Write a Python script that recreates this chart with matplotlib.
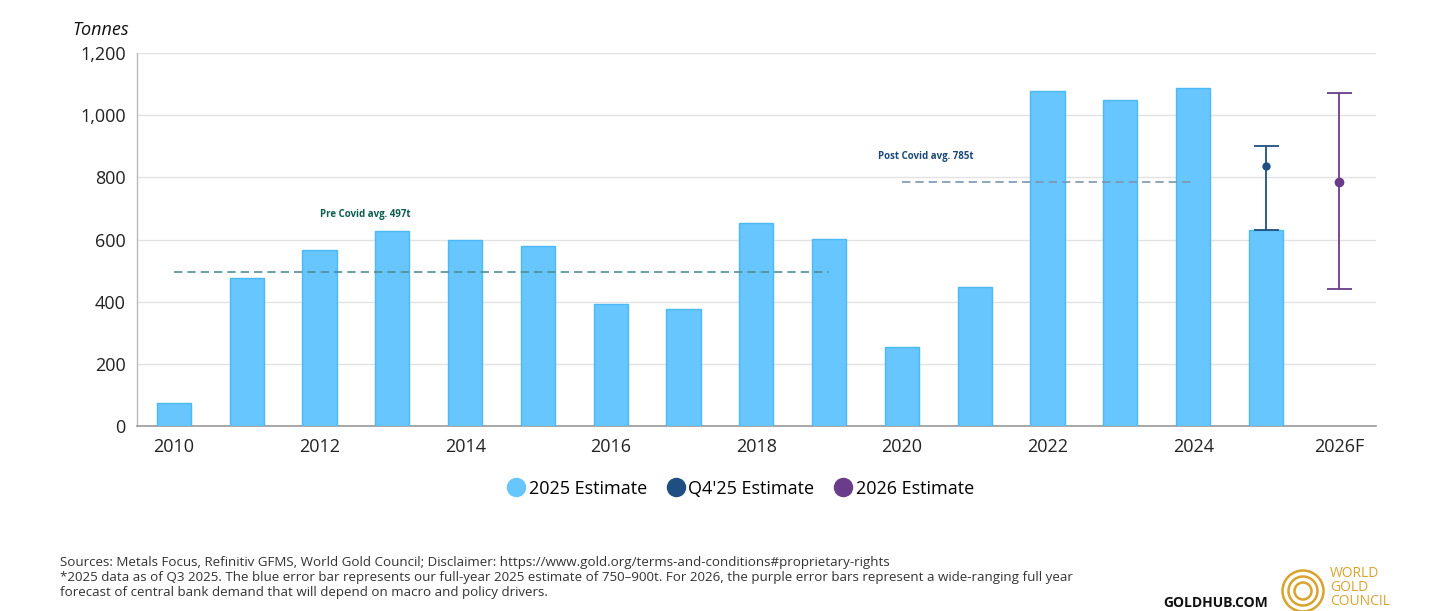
import numpy as np
import matplotlib.pyplot as plt
from matplotlib.patches import Circle
from matplotlib.lines import Line2D

plt.rcParams['font.family'] = ['Open Sans', 'DejaVu Sans']

# Data
years = ['2010', '2011', '2012', '2013', '2014', '2015', '2016', '2017', '2018',
         '2019', '2020', '2021', '2022', '2023', '2024', '2025', '2026F']
demand = [74, 477, 566, 627, 598, 579, 392, 376, 653, 602, 254, 447, 1078, 1049, 1087, 632]
tick_labels = ['2010', '', '2012', '', '2014', '', '2016', '', '2018', '',
               '2020', '', '2022', '', '2024', '', '2026F']

q4_est = 835
q4_low, q4_high = 632, 900
f26_est = 785
f26_low, f26_high = 440, 1070

pre_covid_avg = 497
post_covid_avg = 785

bar_color = '#66c6fd'
navy = '#1f4f82'
purple = '#6a3d8a'

fig = plt.figure(figsize=(14.56, 6.11), dpi=100)
ax = fig.add_axes([0.094, 0.302, 0.851, 0.612])

x = np.arange(len(years))
ax.bar(x[:len(demand)], demand, width=0.47, color=bar_color, edgecolor='#4cb9f5',
       linewidth=1, zorder=3)

# 2025 error bar (Q4'25 estimate)
ax.errorbar(x[15], q4_est, yerr=[[q4_est - q4_low], [q4_high - q4_est]], fmt='o',
            color=navy, ms=5, elinewidth=1.3, capsize=9, capthick=1.3, zorder=4)
# 2026 forecast
ax.errorbar(x[16], f26_est, yerr=[[f26_est - f26_low], [f26_high - f26_est]], fmt='o',
            color=purple, ms=6, elinewidth=1.3, capsize=9, capthick=1.3, zorder=4)

# averages
ax.plot([0, 9], [pre_covid_avg] * 2, ls=(0, (5, 3)), color='#4f8f93', lw=1.2, zorder=5)
ax.plot([10, 14], [post_covid_avg] * 2, ls=(0, (5, 3)), color='#7b96ad', lw=1.2, zorder=5)
ax.text(2.63, 680, 'Pre Covid avg. 497t', color='#0c5c50', fontsize=7, fontweight='bold',
        ha='center', va='center')
ax.text(10.33, 868, 'Post Covid avg. 785t', color='#1b4a7a', fontsize=7, fontweight='bold',
        ha='center', va='center')

ax.set_xlim(-0.51, 16.51)
ax.set_ylim(0, 1200)
ax.set_yticks(range(0, 1201, 200))
ax.set_yticklabels([f'{v:,}' for v in range(0, 1201, 200)])
ax.set_xticks(x)
ax.set_xticklabels(tick_labels)
ax.tick_params(axis='both', length=0, labelsize=13, colors='#222222')
ax.tick_params(axis='x', pad=8)
ax.tick_params(axis='y', pad=8)
ax.grid(axis='y', color='#e2e2e2', lw=1, zorder=0)
for s in ['top', 'right']:
    ax.spines[s].set_visible(False)
ax.spines['left'].set_color('#bbbbbb')
ax.spines['bottom'].set_color('#999999')
ax.spines['left'].set_linewidth(1)
ax.spines['bottom'].set_linewidth(1.2)

fig.text(0.0495, 0.951, 'Tonnes', fontsize=13, style='italic', ha='left', va='center',
         color='#111111')

# legend
handles = [Line2D([], [], marker='o', ls='', ms=13, color=c) for c in [bar_color, navy, purple]]
fig.legend(handles, ['2025 Estimate', "Q4'25 Estimate", '2026 Estimate'], loc='center',
           bbox_to_anchor=(0.508, 0.2), ncol=3, frameon=False, fontsize=13,
           handletextpad=0.1, columnspacing=1.0, handlelength=1.2)

# footnotes
notes = ['Sources: Metals Focus, Refinitiv GFMS, World Gold Council; Disclaimer: https://www.gold.org/terms-and-conditions#proprietary-rights',
         '*2025 data as of Q3 2025. The blue error bar represents our full-year 2025 estimate of 750\u2013900t. For 2026, the purple error bars represent a wide-ranging full year',
         'forecast of central bank demand that will depend on macro and policy drivers.']
for i, line in enumerate(notes):
    fig.text(0.041, 0.0786 - i * 0.0238, line, fontsize=9.6, ha='left', va='center',
             color='#333333')

# logo
fig.text(0.799, 0.0131, 'GOLDHUB.COM', fontsize=10, fontweight='bold', ha='left',
         va='center', color='#111111')
gold = '#d9a32e'
for r in [0.205, 0.145, 0.085]:
    fig.add_artist(Circle((13.03, 0.20), r, transform=fig.dpi_scale_trans, fill=False,
                          ec=gold, lw=1.8, clip_on=False))
for i, w in enumerate(['WORLD', 'GOLD', 'COUNCIL']):
    fig.text(0.9135, 0.061 - i * 0.0229, w, fontsize=10, color=gold,
             ha='left', va='center')

fig.savefig('out.png', dpi=100)
